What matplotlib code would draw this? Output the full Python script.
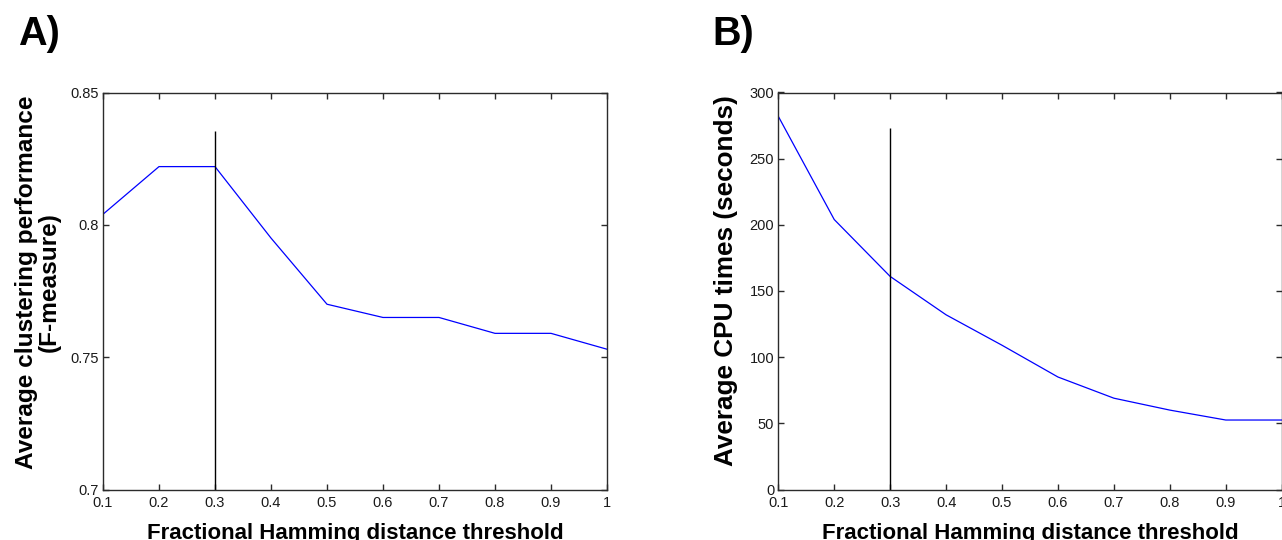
import numpy as np
import matplotlib
matplotlib.use('Agg')
import matplotlib.pyplot as plt

plt.rcParams['font.family'] = ['Liberation Sans', 'DejaVu Sans']

# data
thresholds = [0.1, 0.2, 0.3, 0.4, 0.5, 0.6, 0.7, 0.8, 0.9, 1.0]
fmeasure = [0.804, 0.822, 0.822, 0.795, 0.770, 0.765, 0.765, 0.759, 0.759, 0.753]
cpu_times = [282, 204, 161, 132, 109, 85, 69, 60, 52.5, 52.5]

chosen_threshold = 0.3
marker_top_a = 0.8356
marker_top_b = 273

xticks = [0.1, 0.2, 0.3, 0.4, 0.5, 0.6, 0.7, 0.8, 0.9, 1.0]
xticklabels = ['0.1', '0.2', '0.3', '0.4', '0.5', '0.6', '0.7', '0.8', '0.9', '1']
yticks_a = [0.7, 0.75, 0.8, 0.85]
yticklabels_a = ['0.7', '0.75', '0.8', '0.85']
yticks_b = [0, 50, 100, 150, 200, 250, 300]

W, H = 1282, 540
fig = plt.figure(figsize=(W / 100, H / 100), dpi=100)

ax1 = fig.add_axes([103 / W, 1 - 489.5 / H, 504 / W, 397 / H])
ax2 = fig.add_axes([778.3 / W, 1 - 489.5 / H, 503.4 / W, 397 / H])

spine_col = '#2b2b2b'
for ax in (ax1, ax2):
    for s in ax.spines.values():
        s.set_color(spine_col)
        s.set_linewidth(1.0)
    ax.tick_params(direction='in', length=4, width=1.0, color=spine_col,
                   top=True, right=True, labelsize=10.5, labelcolor='#1a1a1a')
    ax.tick_params(axis='x', pad=5)
    ax.tick_params(axis='y', pad=3)
    ax.set_xlim(0.1, 1.0)
    ax.set_xticks(xticks)
    ax.set_xticklabels(xticklabels)
    ax.set_xlabel('Fractional Hamming distance threshold', fontsize=16,
                  fontweight='bold')
    ax.xaxis.set_label_coords(0.5, -0.085)

# panel A
ax1.plot(thresholds, fmeasure, color='#0000ff', lw=0.9)
ax1.vlines(chosen_threshold, 0.7, marker_top_a, color='black', lw=1.0)
ax1.set_ylim(0.7, 0.85)
ax1.set_yticks(yticks_a)
ax1.set_yticklabels(yticklabels_a)
ax1.set_ylabel('Average clustering performance\n(F-measure)', fontsize=17.6,
               fontweight='bold', linespacing=1.0)
ax1.yaxis.set_label_coords(-0.083, 0.523)

# panel B
ax2.plot(thresholds, cpu_times, color='#0000ff', lw=0.9)
ax2.vlines(chosen_threshold, 0, marker_top_b, color='black', lw=1.0)
ax2.set_ylim(0, 300)
ax2.set_yticks(yticks_b)
ax2.set_ylabel('Average CPU times (seconds)', fontsize=18.8, fontweight='bold')
ax2.yaxis.set_label_coords(-0.081, 0.527)

fig.text(18 / W, 1 - 45 / H, 'A)', fontsize=28.5, fontweight='bold', va='baseline')
fig.text(712 / W, 1 - 45 / H, 'B)', fontsize=28.5, fontweight='bold', va='baseline')

fig.savefig('out.png', dpi=100)
